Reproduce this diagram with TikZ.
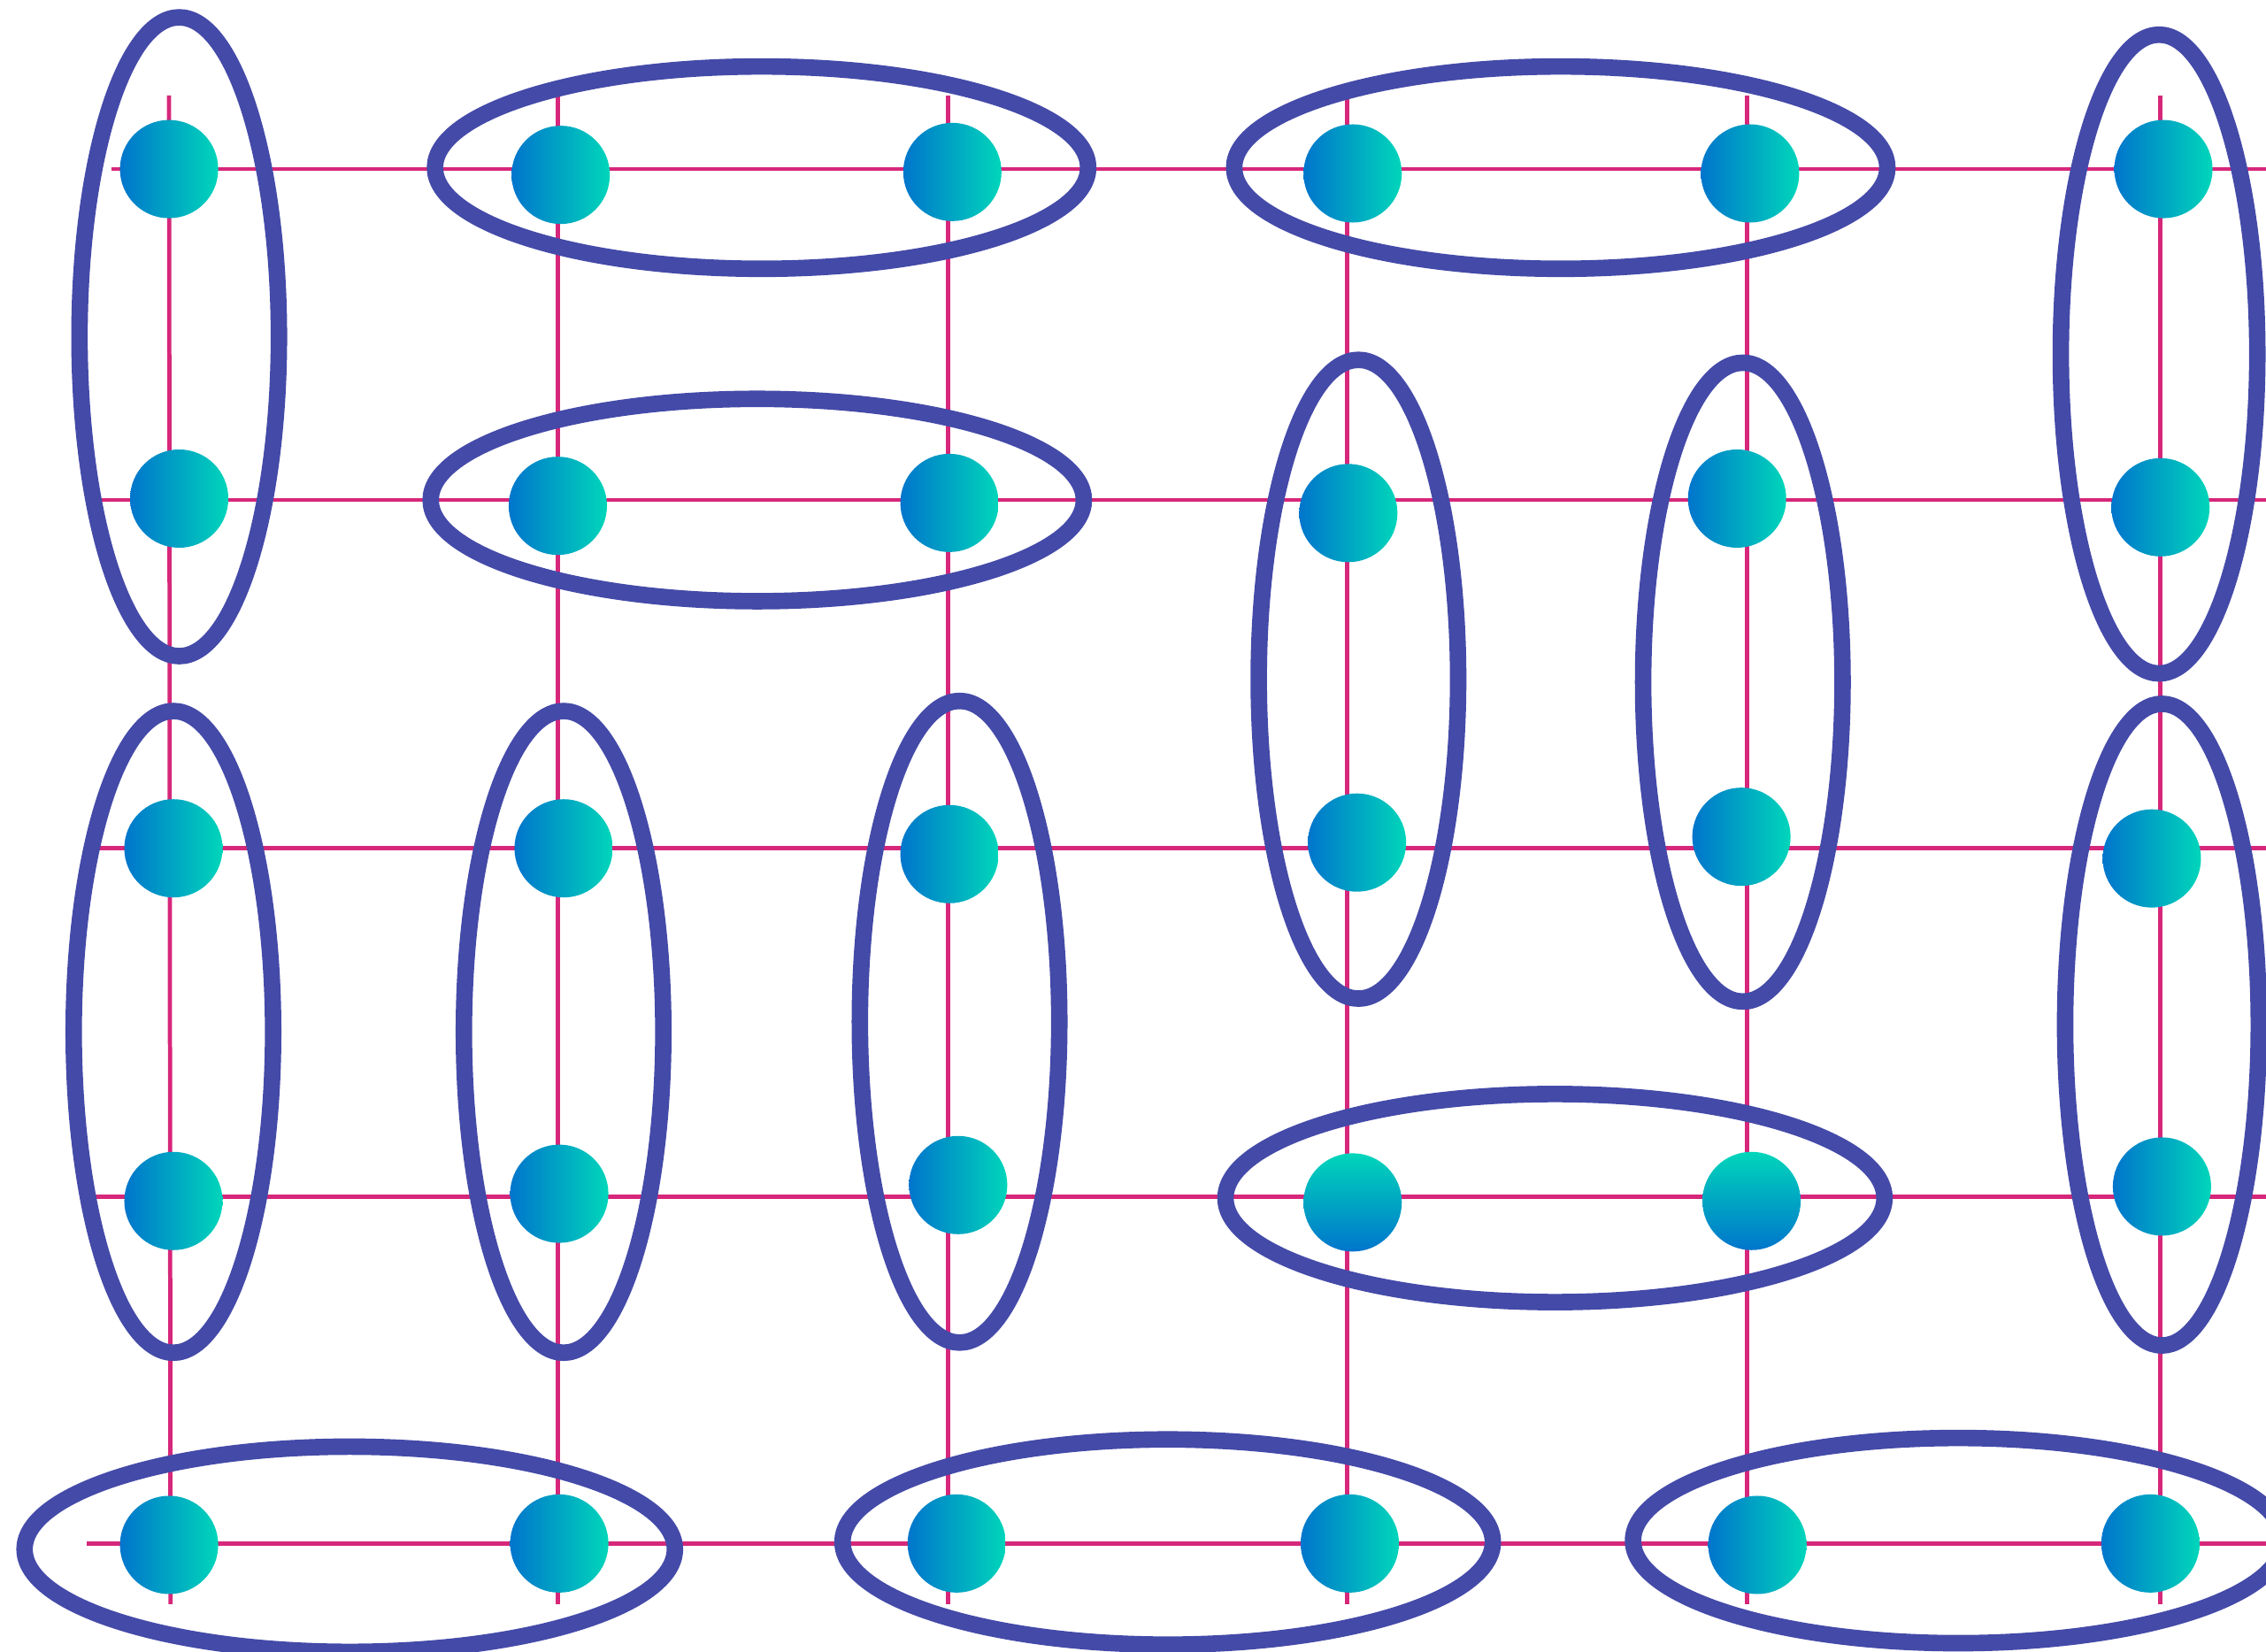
\documentclass[tikz,border=0pt]{standalone}
\usepackage{tikz}
\usetikzlibrary{calc}

\definecolor{dimerblue}{RGB}{68,74,168}
\definecolor{bondpink}{RGB}{214,39,122}
\definecolor{sitedeep}{RGB}{0,117,204}
\definecolor{sitelight}{RGB}{0,214,186}

\tikzset{
    bond/.style={bondpink, line width=1.35pt},
    dimer/.style={dimerblue, line width=5.3pt},
    site/.style={circle, inner sep=0pt, minimum size=1.11cm, left color=sitedeep, right color=sitelight},
    siteup/.style={circle, inner sep=0pt, minimum size=1.11cm, bottom color=sitedeep, top color=sitelight}
}

\begin{document}
\begin{tikzpicture}[x=0.016333cm, y=-0.016333cm]
        \useasboundingbox (0,0) rectangle (1568,1142.5);
        \clip (0,0) rectangle (1568,1142.5);

        % lattice
        \draw[bond] (77,117) -- (1568,117);
        \draw[bond] (70,346) -- (1568,346);
        \draw[bond] (65,587) -- (1568,587);
        \draw[bond] (65,828) -- (1568,828);
        \draw[bond] (60,1068) -- (1568,1068);
        \draw[bond] (117,66) -- (118,1110);
        \draw[bond] (386,66) -- (386,1110);
        \draw[bond] (656,66) -- (656,1110);
        \draw[bond] (932,66) -- (932,1110);
        \draw[bond] (1209,66) -- (1209,1110);
        \draw[bond] (1495,66) -- (1495,1110);

        % sites
        \node[site] (d11) at (117,117) {};
        \node[site] (d12) at (388,121) {};
        \node[site] (d13) at (659,119) {};
        \node[site] (d14) at (936,120) {};
        \node[site] (d15) at (1211,120) {};
        \node[site] (d16) at (1497,117) {};

        \node[site] (d21) at (124,345) {};
        \node[site] (d22) at (386,350) {};
        \node[site] (d23) at (657,348) {};
        \node[site] (d24) at (933,355) {};
        \node[site] (d25) at (1202,345) {};
        \node[site] (d26) at (1495,351) {};

        \node[site] (d31) at (120,587) {};
        \node[site] (d32) at (390,587) {};
        \node[site] (d33) at (657,591) {};
        \node[site] (d34) at (939,583) {};
        \node[site] (d35) at (1205,579) {};
        \node[site] (d36) at (1489,594) {};

        \node[site] (d41) at (120,831) {};
        \node[site] (d42) at (387,826) {};
        \node[site] (d43) at (663,820) {};
        \node[siteup] (d44) at (936,832) {};
        \node[siteup] (d45) at (1212,831) {};
        \node[site] (d46) at (1496,821) {};

        \node[site] (d51) at (117,1069) {};
        \node[site] (d52) at (387,1068) {};
        \node[site] (d53) at (662,1068) {};
        \node[site] (d54) at (934,1068) {};
        \node[site] (d55) at (1216,1069) {};
        \node[site] (d56) at (1488,1068) {};

        % dimers
        \draw[dimer] (124,233) ellipse (69 and 221);
        \draw[dimer] (527,116) ellipse (226 and 70);
        \draw[dimer] (1080,116) ellipse (226 and 70);
        \draw[dimer] (1494,245) ellipse (68 and 221);
        \draw[dimer] (524,346) ellipse (226 and 70);
        \draw[dimer] (940,470) ellipse (69 and 221);
        \draw[dimer] (1206,472) ellipse (69 and 221);
        \draw[dimer] (120,714) ellipse (69 and 222);
        \draw[dimer] (390,714) ellipse (69 and 222);
        \draw[dimer] (664,707) ellipse (69 and 222);
        \draw[dimer] (1496,709) ellipse (67 and 222);
        \draw[dimer] (1076,829) ellipse (228 and 72);
        \draw[dimer] (242,1072) ellipse (225 and 71);
        \draw[dimer] (808,1067) ellipse (225 and 71);
        \draw[dimer] (1355,1066) ellipse (225 and 71);
    \end{tikzpicture}
\end{document}
